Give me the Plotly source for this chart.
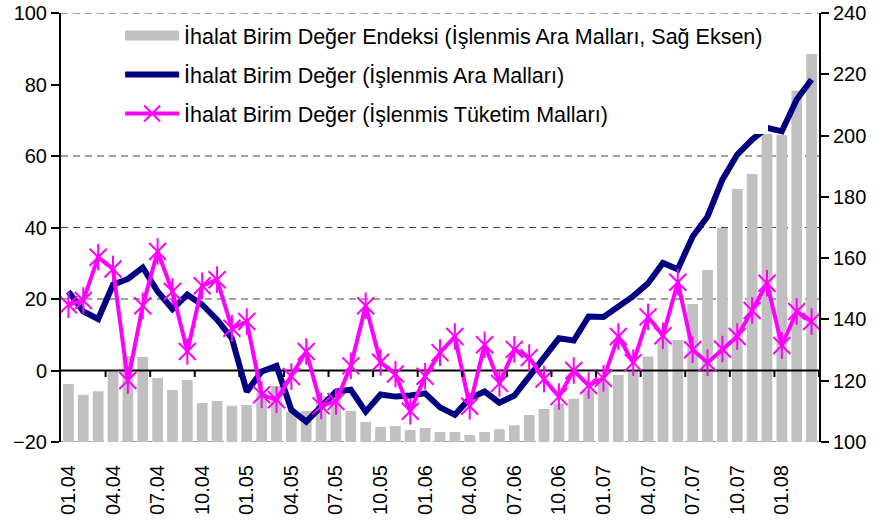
import plotly.graph_objects as go

# Monthly data, 01.2004 - 03.2008
months = [f"{m:02d}.{y:02d}" for y in range(4, 9) for m in range(1, 13)][:51]

# Import unit value index, processed intermediate goods (right axis)
index_intermediate = [
    118.9, 115.4, 116.6, 123.3, 128.0, 127.7, 120.9, 117.0, 120.2, 112.7,
    113.4, 111.8, 112.1, 115.9, 118.3, 109.9, 110.1, 115.0, 114.7, 110.1,
    106.5, 104.9, 105.2, 103.9, 104.6, 103.3, 103.3, 102.3, 103.3, 104.2,
    105.5, 108.8, 110.8, 112.6, 114.1, 117.0, 119.7, 121.9, 123.5, 127.9,
    133.8, 133.3, 145.0, 156.1, 169.8, 182.6, 187.5, 200.6, 200.2, 214.7,
    226.6,
]

# Annual % change, processed intermediate goods (left axis)
change_intermediate = [
    22.1, 16.5, 14.4, 24.0, 25.6, 28.8, 22.1, 17.2, 21.2, 18.4,
    14.2, 9.0, -5.9, -0.3, 1.3, -11.0, -14.3, -10.1, -5.9, -5.4,
    -11.5, -6.7, -7.3, -7.0, -6.4, -10.3, -12.4, -7.8, -5.9, -9.0,
    -7.0, -1.7, 3.6, 9.0, 8.4, 15.1, 15.0, 17.9, 20.8, 24.4,
    30.1, 28.3, 37.5, 43.1, 53.4, 60.4, 64.6, 67.9, 66.9, 75.8,
    81.4,
]

# Annual % change, processed consumer goods (left axis)
change_consumer = [
    18.4, 19.6, 31.7, 28.4, -2.8, 18.1, 33.3, 22.1, 5.3, 23.7,
    25.4, 11.8, 13.7, -6.8, -8.2, -1.7, 5.3, -9.9, -8.7, 1.3,
    18.1, 2.3, -1.0, -11.4, -1.6, 5.0, 9.5, -10.0, 7.2, -3.6,
    5.9, 3.6, -2.4, -7.3, 0.0, -4.2, -2.2, 9.5, 2.2, 15.0,
    9.7, 24.7, 5.8, 2.2, 6.0, 9.5, 16.8, 24.4, 7.0, 16.5,
    13.7,
]

left_grid = [100, 60, 40, 20, -20]

FONT = "Arial, Liberation Sans, sans-serif"
BAR_GREY = "#C0C0C0"
x = list(range(len(months)))

fig = go.Figure()

fig.add_trace(go.Bar(
    x=x, y=index_intermediate, showlegend=False,
    marker={"color": BAR_GREY, "line": {"width": 0}},
    yaxis="y",
))

# legend entry for the bars: wide grey block like the original
fig.add_trace(go.Scatter(
    x=[None], y=[None], mode="lines",
    name="İhalat Birim Değer Endeksi (İşlenmis Ara Malları, Sağ Eksen)",
    line={"color": BAR_GREY, "width": 13},
    legendgroup="a", yaxis="y",
))

# zero line of the left axis, drawn as a trace so the series sit above it
fig.add_trace(go.Scatter(
    x=[-0.5, len(months) - 0.5], y=[0, 0], mode="lines",
    line={"color": "black", "width": 2}, showlegend=False,
    hoverinfo="skip", yaxis="y2",
))

fig.add_trace(go.Scatter(
    x=x, y=change_intermediate, mode="lines",
    name="İhalat Birim Değer (İşlenmis Ara Malları)",
    line={"color": "#000080", "width": 6},
    legendgroup="b", yaxis="y2",
))

fig.add_trace(go.Scatter(
    x=x, y=change_consumer, mode="lines+markers",
    name="İhalat Birim Değer (İşlenmis Tüketim Malları)",
    line={"color": "#FF00FF", "width": 4},
    marker={"symbol": "x-thin-open", "size": 17, "color": "#FF00FF",
            "line": {"color": "#FF00FF", "width": 2}},
    legendgroup="c", yaxis="y2",
))

# vertical stroke of the star markers
fig.add_trace(go.Scatter(
    x=x, y=change_consumer, mode="markers", showlegend=False,
    marker={"symbol": "line-ns-open", "size": 19, "color": "#FF00FF",
            "line": {"color": "#FF00FF", "width": 2}},
    hoverinfo="skip", legendgroup="c", yaxis="y2",
))

# dashed gridlines (the 80 line is hidden behind the legend in the original)
for v in left_grid:
    fig.add_shape(type="line", xref="paper", x0=0, x1=1, yref="y2", y0=v, y1=v,
                  line={"color": "#404040", "width": 1, "dash": "7px,5px"},
                  layer="below")

# category ticks on the zero line
for k in range(2, len(months), 3):
    fig.add_shape(type="line", xref="x", x0=k + 0.5, x1=k + 0.5,
                  yref="y2", y0=0, y1=-1.8,
                  line={"color": "black", "width": 2}, layer="above")

axis_font = {"family": FONT, "size": 20, "color": "black"}

fig.update_layout(
    width=881, height=523,
    template="plotly_white",
    plot_bgcolor="white", paper_bgcolor="white",
    font={"family": FONT, "size": 20, "color": "black"},
    margin={"l": 61, "r": 62, "t": 13, "b": 81},
    bargap=0.28,
    showlegend=True,
    legend={
        "x": 0.078, "y": 0.995, "xanchor": "left", "yanchor": "top",
        "bgcolor": "white", "borderwidth": 0,
        "font": {"family": FONT, "size": 21.5, "color": "black"},
        "itemwidth": 54, "traceorder": "grouped", "tracegroupgap": 8,
    },
    xaxis={
        "range": [-0.5, len(months) - 0.5], "automargin": False,
        "tickvals": x[::3], "ticktext": months[::3],
        "tickangle": -90, "showgrid": False, "zeroline": False,
        "showline": False, "ticks": "outside", "ticklen": 14,
        "tickcolor": "rgba(0,0,0,0)", "tickfont": axis_font,
    },
    yaxis={
        "side": "right", "range": [100, 240], "dtick": 20, "automargin": False,
        "showgrid": False, "zeroline": False,
        "showline": True, "linecolor": "black", "linewidth": 2,
        "ticks": "outside", "ticklen": 8, "tickwidth": 2, "tickcolor": "black",
        "tickfont": axis_font,
    },
    yaxis2={
        "side": "left", "overlaying": "y", "range": [-20, 100], "dtick": 20,
        "automargin": False,
        "showgrid": False, "zeroline": False,
        "showline": True, "linecolor": "black", "linewidth": 2,
        "ticks": "outside", "ticklen": 8, "tickwidth": 2, "tickcolor": "black",
        "tickfont": axis_font,
    },
)

# drop the browser's default 8px body margin so the figure sits at the page corner
fig.write_html(
    "out.html",
    config={"displayModeBar": False},
    post_script="document.body.style.margin = '0px';",
)
